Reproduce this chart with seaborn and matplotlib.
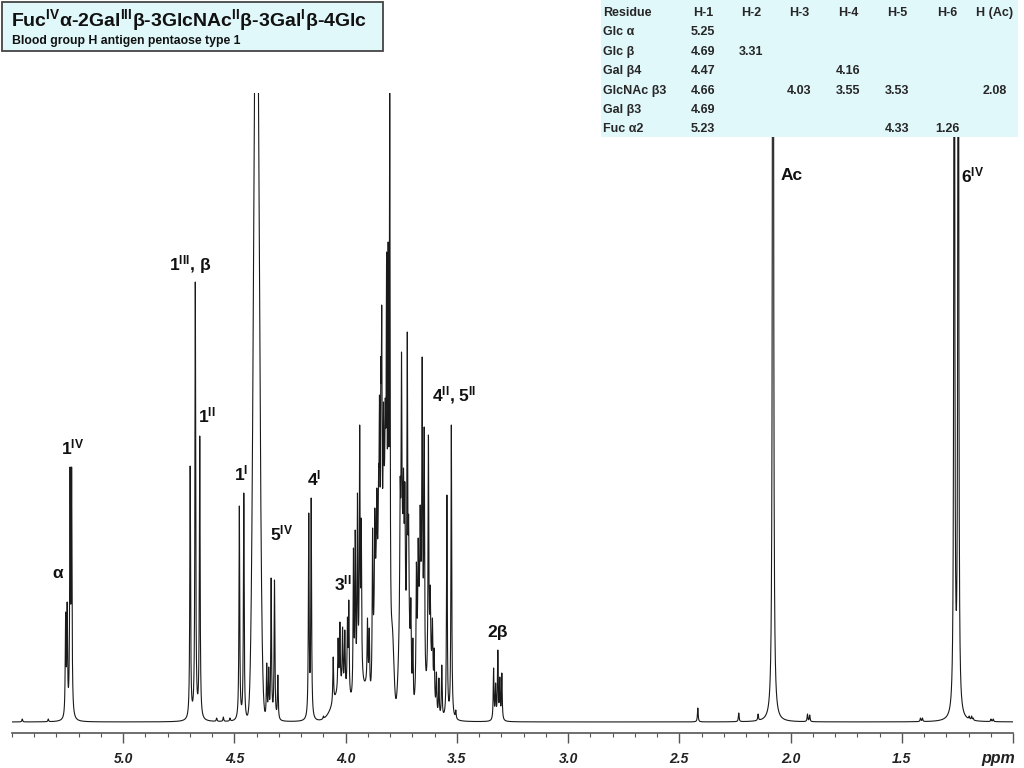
import numpy as np
import pandas as pd
import matplotlib
matplotlib.use("Agg")
import matplotlib.pyplot as plt
import seaborn as sns
from matplotlib.patches import Rectangle

# peaks: chemical shift (ppm) and apex height above baseline
anomeric_ppm = [5.259, 5.252, 5.239, 5.232, 4.699, 4.676, 4.656, 4.478, 4.458]
anomeric_height = [110, 120, 255, 255, 256, 440, 286, 216, 229]

h5_h4_ppm = [4.355, 4.346, 4.335, 4.320, 4.305, 4.166, 4.155]
h5_h4_height = [59, 55, 144, 142, 47, 209, 224]

ring_ppm = [4.056, 4.034, 4.026, 4.014, 4.004, 3.992, 3.986, 3.965, 3.957, 3.947,
            3.937, 3.930, 3.902, 3.894, 3.879, 3.869, 3.860, 3.852, 3.848, 3.842,
            3.838, 3.830, 3.822, 3.816, 3.809, 3.802, 3.755, 3.749, 3.740, 3.734,
            3.723, 3.717, 3.707, 3.698, 3.682, 3.674, 3.665, 3.656, 3.647, 3.628,
            3.620, 3.610, 3.602, 3.592, 3.581, 3.568, 3.545, 3.525, 3.505]
ring_height = [65, 84, 100, 95, 92, 105, 122, 174, 192, 229,
               297, 204, 104, 94, 194, 214, 234, 257, 327, 364,
               417, 320, 324, 470, 480, 640, 244, 370, 254, 240,
               390, 207, 124, 84, 160, 184, 217, 365, 295, 287,
               137, 104, 74, 50, 44, 57, 227, 297, 12]

glc_h2_ppm = [3.335, 3.326, 3.316, 3.307, 3.298]
glc_h2_height = [54, 39, 72, 45, 49]

methyl_ppm = [2.079, 1.264, 1.246]
methyl_height = [1800, 1200, 1200]

minor_ppm = [5.454, 5.337, 4.58, 4.55, 4.52, 4.10, 4.085, 2.417, 2.233, 2.146,
             1.924, 1.914, 1.416, 1.407, 1.197, 1.186, 1.179, 1.099, 1.089]
minor_height = [3, 3, 4, 5, 4, 6, 5, 14, 9, 8,
                8, 7, 4, 4, 6, 6, 4, 3, 3]

# residual water signal (runs off the top of the frame)
hod_ppm, hod_height, hod_sigma = 4.401, 834, 0.012

# unresolved hump under the ring-proton envelope
hump_ppm = [4.02, 3.93, 3.90, 3.86, 3.825, 3.79, 3.745, 3.715, 3.665, 3.62]
hump_height = [30, 32, 20, 130, 180, 70, 150, 60, 100, 50]
hump_sigma = [0.035, 0.02, 0.01, 0.012, 0.010, 0.007, 0.012, 0.008, 0.012, 0.012]

# assignment table
residues = ["Glc α", "Glc β", "Gal β4", "GlcNAc β3", "Gal β3", "Fuc α2"]
protons = ["H-1", "H-2", "H-3", "H-4", "H-5", "H-6", "H (Ac)"]
shifts = [
    ["5.25", "", "", "", "", "", ""],
    ["4.69", "3.31", "", "", "", "", ""],
    ["4.47", "", "", "4.16", "", "", ""],
    ["4.66", "", "4.03", "3.55", "3.53", "", "2.08"],
    ["4.69", "", "", "", "", "", ""],
    ["5.23", "", "", "", "4.33", "1.26", ""],
]

# ---- build the trace from the peak list ----
line_ppm = np.array(anomeric_ppm + h5_h4_ppm + ring_ppm + glc_h2_ppm + methyl_ppm + minor_ppm)
line_obs = np.array(anomeric_height + h5_h4_height + ring_height + glc_h2_height
                    + methyl_height + minor_height, dtype=float)
line_w = np.full(len(line_ppm), 0.002)


def background(p):
    p = np.asarray(p)[:, None]
    out = hod_height * np.exp(-(p[:, 0] - hod_ppm) ** 2 / (2 * hod_sigma ** 2))
    out = out + (np.array(hump_height) * np.exp(-(p - np.array(hump_ppm)) ** 2
                                                / (2 * np.array(hump_sigma) ** 2))).sum(axis=1)
    return out


def lorentz(p, centres, widths):
    return 1.0 / (1.0 + ((np.asarray(p)[:, None] - centres) / widths) ** 2)


# amplitudes so that the summed trace passes through each observed apex
amp = np.linalg.solve(lorentz(line_ppm, line_ppm, line_w), line_obs - background(line_ppm))
amp = np.clip(amp, 0, None)

ppm = np.linspace(5.5, 1.0, 18001)
intensity = background(ppm) + lorentz(ppm, line_ppm, line_w) @ amp
df = pd.DataFrame({"ppm": ppm, "intensity": intensity})

# ---- figure ----
sns.set_style("white")
plt.rcParams["font.family"] = ["Liberation Sans", "DejaVu Sans"]
plt.rcParams["mathtext.fontset"] = "custom"
plt.rcParams["mathtext.rm"] = "Liberation Sans:bold"
plt.rcParams["mathtext.bf"] = "Liberation Sans:bold"
plt.rcParams["mathtext.it"] = "Liberation Sans:bold:italic"

W, H = 1024, 768
fig = plt.figure(figsize=(W / 100, H / 100), dpi=100)
ax = fig.add_axes([12 / W, (H - 733) / H, (1013 - 12) / W, (733 - 93) / H])

sns.lineplot(data=df, x="ppm", y="intensity", ax=ax, color="#1a1a1a",
             linewidth=0.8, estimator=None, sort=False)

ax.set_xlim(5.5, 1.0)
ax.set_ylim(-11, 629)
ax.set_xlabel("")
ax.set_ylabel("")
ax.set_yticks([])
for side in ["left", "right", "top"]:
    ax.spines[side].set_visible(False)
ax.spines["bottom"].set_color("#555555")
ax.spines["bottom"].set_linewidth(1.2)

ax.set_xticks([5.0, 4.5, 4.0, 3.5, 3.0, 2.5, 2.0, 1.5, 1.0])
ax.set_xticklabels(["5.0", "4.5", "4.0", "3.5", "3.0", "2.5", "2.0", "1.5", ""])
ax.set_xticks(np.round(np.arange(5.5, 0.95, -0.1), 1), minor=True)
ax.tick_params(axis="x", which="major", length=7, width=1, color="#555555", pad=7,
               direction="out", bottom=True)
ax.tick_params(axis="x", which="minor", length=3, width=0.8, color="#555555",
               direction="out", bottom=True)
for lab in ax.get_xticklabels():
    lab.set_fontsize(10)
    lab.set_fontweight("bold")
    lab.set_fontstyle("italic")
    lab.set_color("#222222")
ax.text(1.065, -36, "ppm", ha="center", va="center", fontsize=11.5, fontweight="bold",
        fontstyle="italic", color="#222222", clip_on=False)

# peak assignments
annotations = [
    ("α", 5.296, 149), (r"1$^{\mathrm{IV}}$", 5.228, 275), (r"1$^{\mathrm{III}}$, β", 4.700, 457),
    (r"1$^{\mathrm{II}}$", 4.626, 307), (r"1$^{\mathrm{I}}$", 4.469, 249),
    (r"5$^{\mathrm{IV}}$", 4.289, 189), (r"4$^{\mathrm{I}}$", 4.140, 244),
    (r"3$^{\mathrm{II}}$", 4.014, 139), (r"4$^{\mathrm{II}}$, 5$^{\mathrm{II}}$", 3.511, 327),
    ("2β", 3.317, 89), ("Ac", 1.995, 547), (r"6$^{\mathrm{IV}}$", 1.180, 547),
]
for txt, xp, yp in annotations:
    ax.text(xp, yp, txt, ha="center", va="center", fontsize=12.5, fontweight="bold",
            color="#111111", clip_on=False)


def fx(x):
    return x / W


def fy(y):
    return 1 - y / H


# title box
fig.add_artist(Rectangle((fx(2), fy(51)), 381 / W, 49 / H, transform=fig.transFigure,
                         facecolor="#e1f8fb", edgecolor="#444444", linewidth=1.3, zorder=5))
fig.text(fx(11), fy(20),
         r"Fuc$^{\mathrm{IV}}$α-2Gal$^{\mathrm{III}}$β-3GlcNAc$^{\mathrm{II}}$β-3Gal$^{\mathrm{I}}$β-4Glc",
         ha="left", va="center", fontsize=14, fontweight="bold", color="#111111", zorder=6)
fig.text(fx(12), fy(41), "Blood group H antigen pentaose type 1", ha="left", va="center",
         fontsize=8.8, fontweight="bold", color="#111111", zorder=6)

# shift table
fig.add_artist(Rectangle((fx(601), fy(137)), 417 / W, 137 / H, transform=fig.transFigure,
                         facecolor="#e1f8fb", edgecolor="none", zorder=5))
col_x = [703, 751, 799, 848, 897, 947, 995]
row_y = [13 + 19.4 * i for i in range(len(residues) + 1)]
fig.text(fx(603), fy(row_y[0]), "Residue", ha="left", va="center", fontsize=9,
         fontweight="bold", zorder=6)
for cx, name in zip(col_x, protons):
    fig.text(fx(cx), fy(row_y[0]), name, ha="center", va="center", fontsize=9,
             fontweight="bold", zorder=6)
for ry, res, vals in zip(row_y[1:], residues, shifts):
    fig.text(fx(603), fy(ry), res, ha="left", va="center", fontsize=9,
             fontweight="bold", zorder=6)
    for cx, v in zip(col_x, vals):
        if v:
            fig.text(fx(cx), fy(ry), v, ha="center", va="center", fontsize=9,
                     fontweight="bold", zorder=6)

fig.savefig("out.png", dpi=100)
